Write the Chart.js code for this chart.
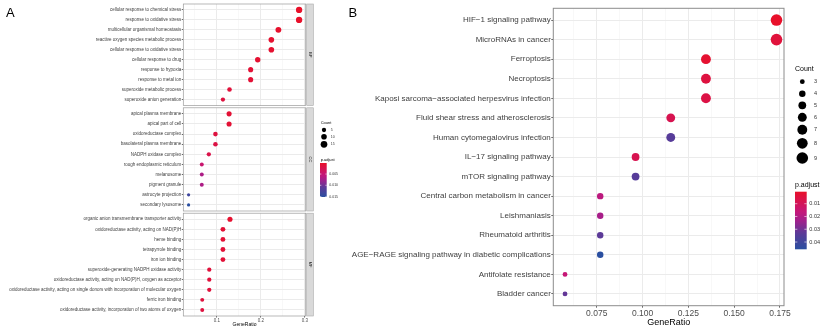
<!DOCTYPE html>
<html>
<head>
<meta charset="utf-8">
<script src="https://cdn.jsdelivr.net/npm/chart.js@4.4.1/dist/chart.umd.min.js"></script>
<style>
html, body { margin: 0; padding: 0; background: #fff; }
#wrap { position: relative; width: 825px; height: 328px; overflow: hidden; font-family: "Liberation Sans", Arial, sans-serif; }
canvas { position: absolute; top: 0; }
.tag { position: absolute; font-size: 13px; line-height: 1; color: #000; }
</style>
</head>
<body>
<div id="wrap">
  <canvas id="bp" width="360" height="328" style="left:0"></canvas>
  <canvas id="cc" width="360" height="328" style="left:0"></canvas>
  <canvas id="mf" width="360" height="328" style="left:0"></canvas>
  <canvas id="kegg" width="495" height="328" style="left:330px"></canvas>
  <div class="tag" style="left:6px;top:5.6px">A</div>
  <div class="tag" style="left:348.5px;top:5.6px">B</div>
</div>
<script>
// ---- panel A : GO enrichment (BP / CC / MF) ----
const bpTerms = ['cellular response to chemical stress', 'response to oxidative stress', 'multicellular organismal homeostasis',
  'reactive oxygen species metabolic process', 'cellular response to oxidative stress', 'cellular response to drug',
  'response to hypoxia', 'response to metal ion', 'superoxide metabolic process', 'superoxide anion generation'];
const bpRatio = [0.287, 0.287, 0.240, 0.224, 0.224, 0.193, 0.177, 0.177, 0.129, 0.114];
const bpCount = [13, 13, 11, 10, 10, 9, 8, 8, 6, 5];
const bpPadj = [0.0001, 0.0001, 0.0003, 0.0005, 0.0005, 0.0006, 0.0009, 0.0009, 0.0012, 0.0015];

const ccTerms = ['apical plasma membrane', 'apical part of cell', 'oxidoreductase complex', 'basolateral plasma membrane',
  'NADPH oxidase complex', 'rough endoplasmic reticulum', 'melanosome', 'pigment granule',
  'astrocyte projection', 'secondary lysosome'];
const ccRatio = [0.128, 0.128, 0.097, 0.097, 0.082, 0.066, 0.066, 0.066, 0.036, 0.036];
const ccCount = [8, 8, 6, 6, 5, 4, 4, 4, 2, 2];
const ccPadj = [0.0008, 0.0008, 0.0015, 0.0018, 0.0022, 0.0046, 0.0069, 0.0069, 0.0134, 0.0152];

const mfTerms = ['organic anion transmembrane transporter activity', 'oxidoreductase activity, acting on NAD(P)H',
  'heme binding', 'tetrapyrrole binding', 'iron ion binding', 'superoxide-generating NADPH oxidase activity',
  'oxidoreductase activity, acting on NAD(P)H, oxygen as acceptor',
  'oxidoreductase activity, acting on single donors with incorporation of molecular oxygen',
  'ferric iron binding', 'oxidoreductase activity, incorporation of two atoms of oxygen'];
const mfRatio = [0.130, 0.114, 0.114, 0.114, 0.114, 0.083, 0.083, 0.083, 0.067, 0.067];
const mfCount = [8, 7, 7, 7, 7, 5, 5, 5, 4, 4];
const mfPadj = [0.0004, 0.0009, 0.0009, 0.0010, 0.0010, 0.0012, 0.0012, 0.0013, 0.0014, 0.0015];

const goTicks = [0.1, 0.2, 0.3];
const goTickLabels = ['0.1', '0.2', '0.3'];
const goMinor = [0.05, 0.15, 0.25];
const goCountLegend = [5, 10, 15];
const goPadjLegend = [0.005, 0.010, 0.015];
const goPadjLegendLabels = ['0.005', '0.010', '0.015'];

// ---- panel B : KEGG ----
const keggTerms = ['HIF\u22121 signaling pathway', 'MicroRNAs in cancer', 'Ferroptosis', 'Necroptosis',
  'Kaposi sarcoma\u2212associated herpesvirus infection', 'Fluid shear stress and atherosclerosis',
  'Human cytomegalovirus infection', 'IL\u221217 signaling pathway', 'mTOR signaling pathway',
  'Central carbon metabolism in cancer', 'Leishmaniasis', 'Rheumatoid arthritis',
  'AGE\u2212RAGE signaling pathway in diabetic complications', 'Antifolate resistance', 'Bladder cancer'];
const keggRatio = [0.1731, 0.1731, 0.1346, 0.1346, 0.1346, 0.1154, 0.1154, 0.0962, 0.0962,
  0.0769, 0.0769, 0.0769, 0.0769, 0.0577, 0.0577];
const keggCount = [9, 9, 7, 7, 7, 6, 6, 5, 5, 4, 4, 4, 4, 3, 3];
const keggPadj = [0.0006, 0.004, 0.002, 0.005, 0.006, 0.008, 0.034, 0.008, 0.034,
  0.018, 0.022, 0.033, 0.0457, 0.0155, 0.032];

const keggTicks = [0.075, 0.1, 0.125, 0.15, 0.175];
const keggTickLabels = ['0.075', '0.100', '0.125', '0.150', '0.175'];
const keggMinor = [0.0625, 0.0875, 0.1125, 0.1375, 0.1625];
const keggCountLegend = [3, 4, 5, 6, 7, 8, 9];
const keggPadjLegend = [0.01, 0.02, 0.03, 0.04];
const keggPadjLegendLabels = ['0.01', '0.02', '0.03', '0.04'];

Chart.defaults.font.family = '"Liberation Sans", Arial, sans-serif';

// red -> magenta -> purple -> blue, like the ggplot colour bar
const stops = [[0, [232, 16, 42]], [0.35, [196, 23, 122]], [0.5, [162, 32, 140]], [0.72, [91, 58, 152]], [1, [42, 79, 160]]];
function padjColor(p, lo, hi) {
  let t = Math.min(1, Math.max(0, (p - lo) / (hi - lo)));
  for (let i = 1; i < stops.length; i++) {
    if (t <= stops[i][0]) {
      const a = stops[i - 1], b = stops[i];
      const f = (t - a[0]) / (b[0] - a[0]);
      const c = a[1].map((v, k) => Math.round(v + (b[1][k] - v) * f));
      return `rgb(${c[0]},${c[1]},${c[2]})`;
    }
  }
  return 'rgb(42,79,160)';
}

const rA = c => Math.sqrt(1.3 + 0.66 * c);
const rB = c => Math.sqrt(Math.max(1, -8.1 + 4.64 * c));

const goLo = Math.min(...bpPadj, ...ccPadj, ...mfPadj);
const goHi = Math.max(...bpPadj, ...ccPadj, ...mfPadj);
const keggLo = Math.min(...keggPadj);
const keggHi = Math.max(...keggPadj);

// panel border + facet strip
const frame = {
  id: 'frame',
  afterDatasetsDraw(chart, args, o) {
    const a = chart.chartArea, c = chart.ctx;
    c.save();
    c.strokeStyle = o.color;
    c.lineWidth = o.width;
    c.strokeRect(a.left, a.top, a.right - a.left, a.bottom - a.top);
    if (o.strip) {
      const x = a.right + 1, w = 6.6;
      c.fillStyle = '#d9d9d9';
      c.fillRect(x, a.top, w, a.bottom - a.top);
      c.strokeStyle = '#a8a8a8';
      c.lineWidth = 0.6;
      c.strokeRect(x, a.top, w, a.bottom - a.top);
      c.translate(x + w / 2, (a.top + a.bottom) / 2);
      c.rotate(Math.PI / 2);
      c.fillStyle = '#1a1a1a';
      c.font = '4px "Liberation Sans", Arial, sans-serif';
      c.textAlign = 'center';
      c.textBaseline = 'middle';
      c.fillText(o.strip, 0, 0);
    }
    c.restore();
  }
};

// size + colour legends
const keys = {
  id: 'keys',
  afterDraw(chart, args, o) {
    if (!o.count) return;
    const c = chart.ctx;
    c.save();
    c.fillStyle = '#000';
    c.textBaseline = 'middle';
    c.textAlign = 'left';
    c.font = o.titleSize + 'px "Liberation Sans", Arial, sans-serif';
    c.fillText('Count', o.x, o.countY);
    o.count.forEach((n, i) => {
      c.beginPath();
      c.fillStyle = '#000';
      c.arc(o.dotX, o.dotY[i], o.radius(n), 0, Math.PI * 2);
      c.fill();
      c.font = o.labelSize + 'px "Liberation Sans", Arial, sans-serif';
      c.fillStyle = '#333';
      c.fillText(String(n), o.labelX, o.dotY[i]);
    });
    c.fillStyle = '#000';
    c.font = o.titleSize + 'px "Liberation Sans", Arial, sans-serif';
    c.fillText('p.adjust', o.x, o.padjY);
    const [bx, by, bw, bh] = o.bar;
    const g = c.createLinearGradient(0, by, 0, by + bh);
    for (let i = 0; i <= 20; i++) g.addColorStop(i / 20, padjColor(o.lo + (o.hi - o.lo) * i / 20, o.lo, o.hi));
    c.fillStyle = g;
    c.fillRect(bx, by, bw, bh);
    c.strokeStyle = '#fff';
    c.lineWidth = 0.6;
    o.ticks.forEach((v, i) => {
      const y = by + (v - o.lo) / (o.hi - o.lo) * bh;
      c.beginPath();
      c.moveTo(bx, y); c.lineTo(bx + bw * 0.2, y);
      c.moveTo(bx + bw * 0.8, y); c.lineTo(bx + bw, y);
      c.stroke();
      c.fillStyle = '#333';
      c.font = o.labelSize + 'px "Liberation Sans", Arial, sans-serif';
      c.fillText(o.tickLabels[i], o.barLabelX, y);
    });
    c.restore();
  }
};

function xAxis(min, max, ticks, labels, minor, size, titleSize, tickLen, showText, height) {
  return {
    type: 'linear', min: min, max: max,
    afterBuildTicks: ax => { ax.ticks = minor.concat(ticks).sort((a, b) => a - b).map(v => ({ value: v })); },
    afterFit: ax => { ax.height = height; },
    ticks: {
      display: showText, autoSkip: false, maxRotation: 0, padding: 0.5,
      color: '#4d4d4d', font: { size: size },
      callback: v => { const k = ticks.indexOf(v); return k >= 0 ? labels[k] : ''; }
    },
    grid: {
      color: ctx => ticks.includes(ctx.tick.value) ? '#ebebeb' : '#f3f3f3',
      lineWidth: ctx => ticks.includes(ctx.tick.value) ? 1 : 0.6,
      drawTicks: showText, tickLength: tickLen,
      tickColor: ctx => ticks.includes(ctx.tick.value) ? '#666' : 'rgba(0,0,0,0)'
    },
    border: { display: false },
    title: {
      display: showText, text: 'GeneRatio', color: '#000',
      font: { size: titleSize }, padding: { top: 0, bottom: 0 }
    }
  };
}

function yAxis(terms, width, size, tickLen) {
  return {
    type: 'linear', reverse: true, min: -0.6, max: terms.length - 0.4,
    afterBuildTicks: ax => { ax.ticks = terms.map((_, i) => ({ value: i })); },
    afterFit: ax => { ax.width = width; },
    ticks: {
      autoSkip: false, padding: 0.5, color: '#404040',
      font: { size: size, lineHeight: 1 },
      callback: v => terms[v]
    },
    grid: { color: '#ebebeb', lineWidth: 1, tickLength: tickLen, tickColor: '#666' },
    border: { display: false }
  };
}

function dotData(terms, ratio) {
  return terms.map((t, i) => ({ x: ratio[i], y: i }));
}

function goFacet(id, terms, ratio, count, padj, top, bottom, strip, last, legend) {
  return new Chart(document.getElementById(id), {
    type: 'scatter',
    data: {
      datasets: [{
        data: dotData(terms, ratio),
        pointRadius: ctx => rA(count[ctx.dataIndex]),
        backgroundColor: ctx => padjColor(padj[ctx.dataIndex], goLo, goHi),
        pointBorderWidth: 0,
        clip: false
      }]
    },
    options: {
      responsive: false, animation: false, events: [],
      layout: { padding: { left: 0, right: 54.3, top: top, bottom: last ? 0 : 328 - bottom } },
      plugins: {
        legend: { display: false }, tooltip: { enabled: false },
        frame: { color: '#9a9a9a', width: 0.7, strip: strip },
        keys: legend || {}
      },
      scales: {
        x: xAxis(0.024, 0.302, goTicks, goTickLabels, goMinor, 4.5, 5, 1.5, last, last ? 328 - bottom : 0),
        y: yAxis(terms, 183.3, 4.5, 1.5)
      }
    },
    plugins: [frame, keys]
  });
}

goFacet('bp', bpTerms, bpRatio, bpCount, bpPadj, 2, 105.5, 'BP', false);
goFacet('cc', ccTerms, ccRatio, ccCount, ccPadj, 107.8, 211, 'CC', false, {
  count: goCountLegend, radius: rA, x: 320.7, countY: 122.7, dotX: 324, dotY: [130, 136.7, 144.3],
  labelX: 330.7, titleSize: 4, labelSize: 3.5, padjY: 160, bar: [320, 163, 6.7, 34],
  lo: goLo, hi: goHi, ticks: goPadjLegend, tickLabels: goPadjLegendLabels, barLabelX: 329.3
});
goFacet('mf', mfTerms, mfRatio, mfCount, mfPadj, 213.2, 316, 'MF', true);

new Chart(document.getElementById('kegg'), {
  type: 'scatter',
  data: {
    datasets: [{
      data: dotData(keggTerms, keggRatio),
      pointRadius: ctx => rB(keggCount[ctx.dataIndex]),
      backgroundColor: ctx => padjColor(keggPadj[ctx.dataIndex], keggLo, keggHi),
      pointBorderWidth: 0,
      clip: false
    }]
  },
  options: {
    responsive: false, animation: false, events: [],
    layout: { padding: { left: 0, right: 41, top: 8.3, bottom: 0 } },
    plugins: {
      legend: { display: false }, tooltip: { enabled: false },
      frame: { color: '#8c8c8c', width: 1 },
      keys: {
        count: keggCountLegend, radius: rB, x: 465, countY: 69, dotX: 472.3,
        dotY: [81.7, 93.7, 105.3, 117.3, 129.7, 143.3, 158], labelX: 484, titleSize: 7, labelSize: 5.5,
        padjY: 185, bar: [465, 191.7, 11.7, 57.6], lo: keggLo, hi: keggHi,
        ticks: keggPadjLegend, tickLabels: keggPadjLegendLabels, barLabelX: 479.3
      }
    },
    scales: {
      x: xAxis(0.0513, 0.1772, keggTicks, keggTickLabels, keggMinor, 8.5, 9, 2, true, 22.3),
      y: yAxis(keggTerms, 223.3, 8, 2)
    }
  },
  plugins: [frame, keys]
});
</script>
</body>
</html>
